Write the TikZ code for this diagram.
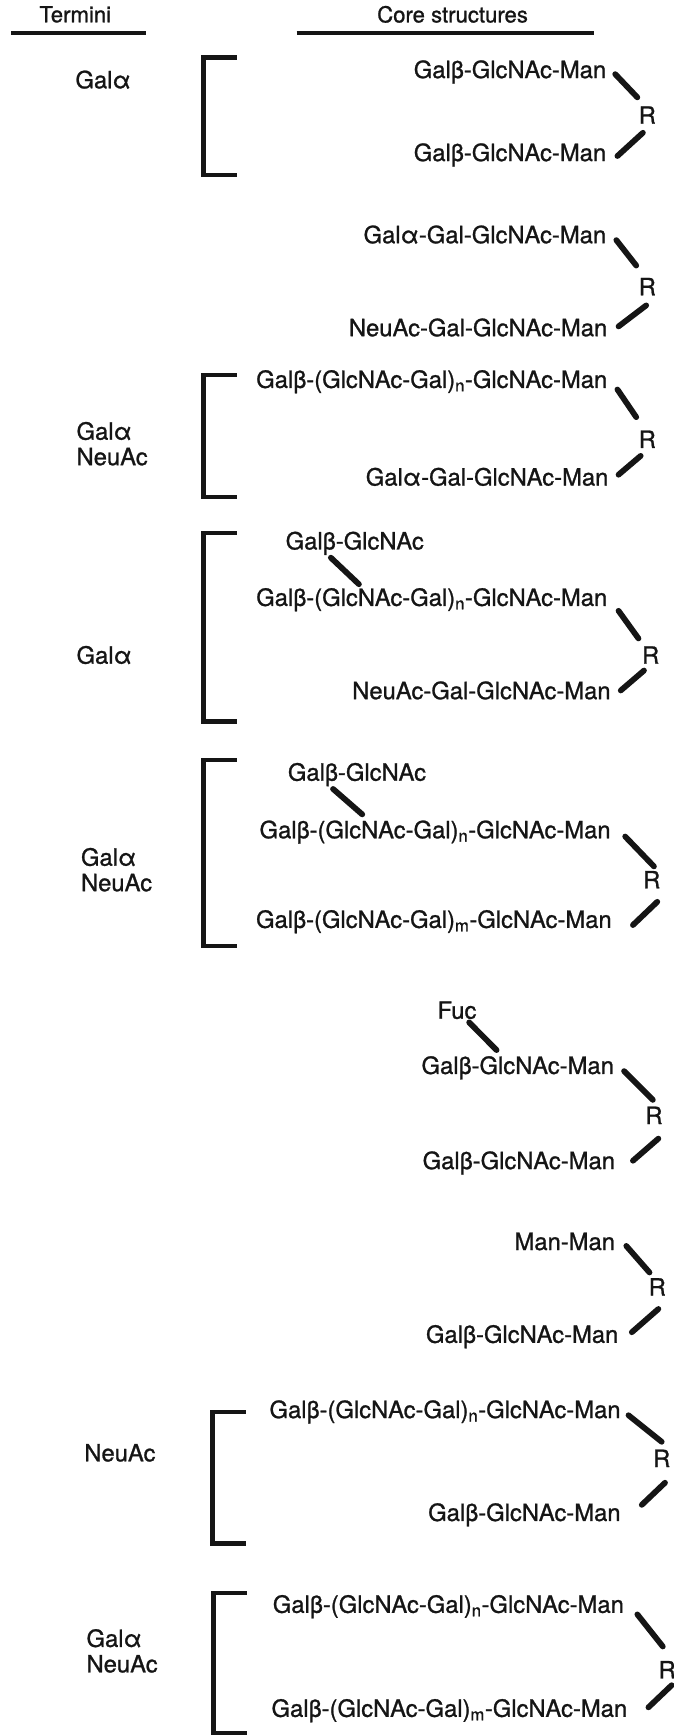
\documentclass[tikz,border=0pt]{standalone}
\usepackage{fontspec}
\setmainfont{TeX Gyre Heros}[FakeBold=1]
\usetikzlibrary{positioning}
\definecolor{ink}{HTML}{151515}
\newcommand{\reps}[1]{\textsubscript{#1}}

\begin{document}
\begin{tikzpicture}[x=1pt,y=-1pt,
  sugar/.style={inner sep=0pt,text=ink,font=\fontsize{21.5}{23}\selectfont},
  headtxt/.style={inner sep=0pt,text=ink,font=\fontsize{20}{22}\selectfont},
  term/.style={sugar,align=left,anchor=west},
  bond/.style={ink,line width=5.2pt,line cap=round},
  rulebar/.style={ink,line width=3.2pt},
  bracket/.style={ink,line width=3.8pt}]
\useasboundingbox (0,0) rectangle (609,1568);
\fill[white] (0,0) rectangle (609,1568);

% headings
\node[headtxt] (termhd) at (68,13) {Termini};
\node[headtxt] (corehd) at (409,13) {Core structures};
\draw[rulebar] (10,30) -- (132,30);
\draw[rulebar] (268,30) -- (537,30);

% brackets round the cores
\foreach \bx/\ya/\yb in {184/52/158, 184/339/449, 184/482/652, 184/687/855, 192/1276/1395, 193/1440/1566}
  \draw[bracket] (\bx+30,\ya) -- (\bx,\ya) -- (\bx,\yb) -- (\bx+30,\yb);

% termini
\node[term] (t1) at (68,72) {Galα};
\node[term] (t3) at (69,401) {Galα\\NeuAc};
\node[term] (t4) at (69,592) {Galα};
\node[term] (t5) at (73,786) {Galα\\NeuAc};
\node[term] (t8) at (76,1313) {NeuAc};
\node[term] (t9) at (78,1492) {Galα\\NeuAc};

% core 1
\node[sugar,anchor=east] (a1) at (548,65) {Galβ-GlcNAc-Man};
\node[sugar] (r1) at (585,104) {R};
\node[sugar,anchor=east] (b1) at (548,140) {Galβ-GlcNAc-Man};

% core 2
\node[sugar,anchor=east] (a2) at (548,212) {Galα-Gal-GlcNAc-Man};
\node[sugar] (r2) at (585,259) {R};
\node[sugar,anchor=east] (b2) at (549,296) {NeuAc-Gal-GlcNAc-Man};

% core 3
\node[sugar,anchor=east] (a3) at (549,345) {Galβ-(GlcNAc-Gal)\reps{n}-GlcNAc-Man};
\node[sugar] (r3) at (585,397) {R};
\node[sugar,anchor=east] (b3) at (550,431) {Galα-Gal-GlcNAc-Man};

% core 4
\node[sugar,anchor=west] (c4) at (258,491) {Galβ-GlcNAc};
\node[sugar,anchor=east] (a4) at (549,542) {Galβ-(GlcNAc-Gal)\reps{n}-GlcNAc-Man};
\node[sugar] (r4) at (588,592) {R};
\node[sugar,anchor=east] (b4) at (552,624) {NeuAc-Gal-GlcNAc-Man};

% core 5
\node[sugar,anchor=west] (c5) at (260,700) {Galβ-GlcNAc};
\node[sugar,anchor=east] (a5) at (552,752) {Galβ-(GlcNAc-Gal)\reps{n}-GlcNAc-Man};
\node[sugar] (r5) at (589,795) {R};
\node[sugar,anchor=east] (b5) at (553,833) {Galβ-(GlcNAc-Gal)\reps{m}-GlcNAc-Man};

% core 6
\node[sugar] (f6) at (413,913) {Fuc};
\node[sugar,anchor=east] (a6) at (555,965) {Galβ-GlcNAc-Man};
\node[sugar] (r6) at (591,1008) {R};
\node[sugar,anchor=east] (b6) at (556,1051) {Galβ-GlcNAc-Man};

% core 7
\node[sugar,anchor=east] (a7) at (556,1122) {Man-Man};
\node[sugar] (r7) at (594,1163) {R};
\node[sugar,anchor=east] (b7) at (559,1208) {Galβ-GlcNAc-Man};

% core 8
\node[sugar,anchor=east] (a8) at (561,1276) {Galβ-(GlcNAc-Gal)\reps{n}-GlcNAc-Man};
\node[sugar] (r8) at (598,1318) {R};
\node[sugar,anchor=east] (b8) at (561,1369) {Galβ-GlcNAc-Man};

% core 9
\node[sugar,anchor=east] (a9) at (564,1452) {Galβ-(GlcNAc-Gal)\reps{n}-GlcNAc-Man};
\node[sugar] (r9) at (603,1509) {R};
\node[sugar,anchor=east] (b9) at (567,1546) {Galβ-(GlcNAc-Gal)\reps{m}-GlcNAc-Man};

% bonds to R (offsets: upper start, upper end, lower start, lower end)
\foreach \i/\ux/\uy/\vx/\vy/\px/\py/\qx/\qy in {
  1/8/2/-9/-16/-4/16/10/1,
  2/9/5/-10/-19/-1/17/10/-1,
  3/9/7/-10/-20/-6/15/9/-2,
  4/10/10/-11/-15/-6/14/9/0,
  5/13/4/2/-12/5/20/19/3,
  6/9/3/-1/-14/4/21/16/-2,
  7/10/4/-7/-13/1/20/12/-4,
  8/7/3/0/-15/3/22/19/-9,
  9/12/7/-4/-21/4/14/19/-3}{
  \draw[bond] ([shift={(\ux,\uy)}]a\i.east) -- ([shift={(\vx,\vy)}]r\i.center);
  \draw[bond] ([shift={(\px,\py)}]r\i.center) -- ([shift={(\qx,\qy)}]b\i.east);
}
% side branches
\draw[bond] ([shift={(41,13)}]c4.west) -- ([shift={(93,-14)}]a4.west);
\draw[bond] ([shift={(41,13)}]c5.west) -- ([shift={(93,-16)}]a5.west);
\draw[bond] ([shift={(11,11)}]f6.center) -- ([shift={(68,-16)}]a6.west);
\end{tikzpicture}
\end{document}
